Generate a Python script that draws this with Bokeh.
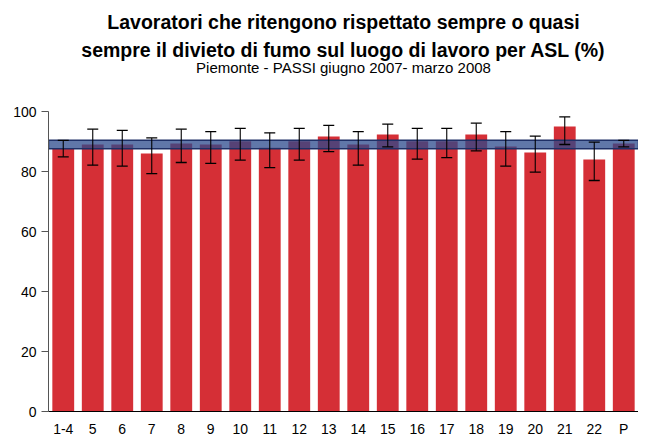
from bokeh.plotting import figure
from bokeh.models import ColumnDataSource, Whisker, TeeHead, Title, Range1d, FactorRange
from bokeh.embed import file_html
from bokeh.resources import INLINE

categories = ["1-4", "5", "6", "7", "8", "9", "10", "11", "12", "13", "14",
              "15", "16", "17", "18", "19", "20", "21", "22", "P"]
values = [87.6, 89.0, 89.0, 86.0, 89.3, 89.0, 90.1, 87.9, 90.1, 91.7, 89.0,
          92.3, 90.1, 90.1, 92.3, 88.3, 86.3, 95.0, 84.0, 89.3]
ci_upper = [90.4, 94.1, 93.7, 91.2, 94.1, 93.3, 94.4, 92.9, 94.4, 95.4, 93.3,
            95.8, 94.4, 94.4, 96.1, 93.3, 91.8, 98.2, 89.8, 90.4]
ci_lower = [84.9, 82.1, 81.8, 79.3, 83.0, 82.7, 83.8, 81.3, 83.8, 86.6, 82.1,
            88.2, 84.1, 84.6, 86.9, 81.8, 79.8, 89.0, 77.0, 88.2]
region_low = 87.6
region_high = 90.4

title_line1 = "Lavoratori che ritengono rispettato sempre o quasi"
title_line2 = "sempre il divieto di fumo sul luogo di lavoro per ASL (%)"
subtitle = "Piemonte - PASSI giugno 2007- marzo 2008"

FONT = "Liberation Sans"

src = ColumnDataSource(dict(cat=categories, val=values, up=ci_upper, lo=ci_lower))

p = figure(frame_width=590, frame_height=300,
           x_range=FactorRange(*categories, range_padding=0.0),
           y_range=Range1d(0, 100), output_backend="svg", toolbar_location=None,
           min_border_left=48, min_border_right=0, min_border_bottom=0)
p.x_range.factor_padding = 0
p.x_range.range_padding = 0

p.vbar(x="cat", top="val", width=0.74, source=src, fill_color="#D52F36",
       line_color=None)

p.quad(left=[0], right=[len(categories)], bottom=[region_low], top=[region_high],
       fill_color="#2B4A8C", fill_alpha=0.75, line_color="#1E2F66", line_width=1.5)

w = Whisker(base="cat", upper="up", lower="lo", source=src, line_color="black",
            line_width=1.1, level="overlay",
            upper_head=TeeHead(size=11, line_color="black", line_width=1.3),
            lower_head=TeeHead(size=11, line_color="black", line_width=1.3))
p.add_layout(w)

p.add_layout(Title(text=" ", align="center", text_font=FONT,
                   text_font_size="20px", standoff=12), "above")
p.add_layout(Title(text=subtitle, align="center", text_font=FONT,
                   text_font_size="15px", text_font_style="normal",
                   text_color="black", standoff=0), "above")
p.add_layout(Title(text=title_line2, align="center", text_font=FONT,
                   text_font_size="19.5px", text_font_style="bold",
                   text_color="black", standoff=-8), "above")
p.title.text = title_line1
p.title.align = "center"
p.title.text_font = FONT
p.title.text_font_size = "19.5px"
p.title.text_font_style = "bold"
p.title.text_color = "black"
p.title.standoff = 16

p.outline_line_color = None
p.xgrid.grid_line_color = None
p.ygrid.grid_line_color = None

p.yaxis.ticker = [0, 20, 40, 60, 80, 100]
p.yaxis.major_label_text_font = FONT
p.yaxis.major_label_text_font_size = "14px"
p.yaxis.major_label_text_color = "black"
p.yaxis.axis_line_color = "#555555"
p.yaxis.major_tick_line_color = "#555555"
p.yaxis.major_tick_in = 0
p.yaxis.major_tick_out = 7
p.yaxis.minor_tick_line_color = None
p.yaxis.major_label_standoff = 5

p.xaxis.major_label_text_font = FONT
p.xaxis.major_label_text_font_size = "14px"
p.xaxis.major_label_text_color = "black"
p.xaxis.axis_line_color = "black"
p.xaxis.axis_line_width = 1.2
p.xaxis.major_tick_line_color = None
p.xaxis.minor_tick_line_color = None
p.xaxis.major_label_standoff = 3

open("out.html", "w").write(file_html(p, INLINE))
